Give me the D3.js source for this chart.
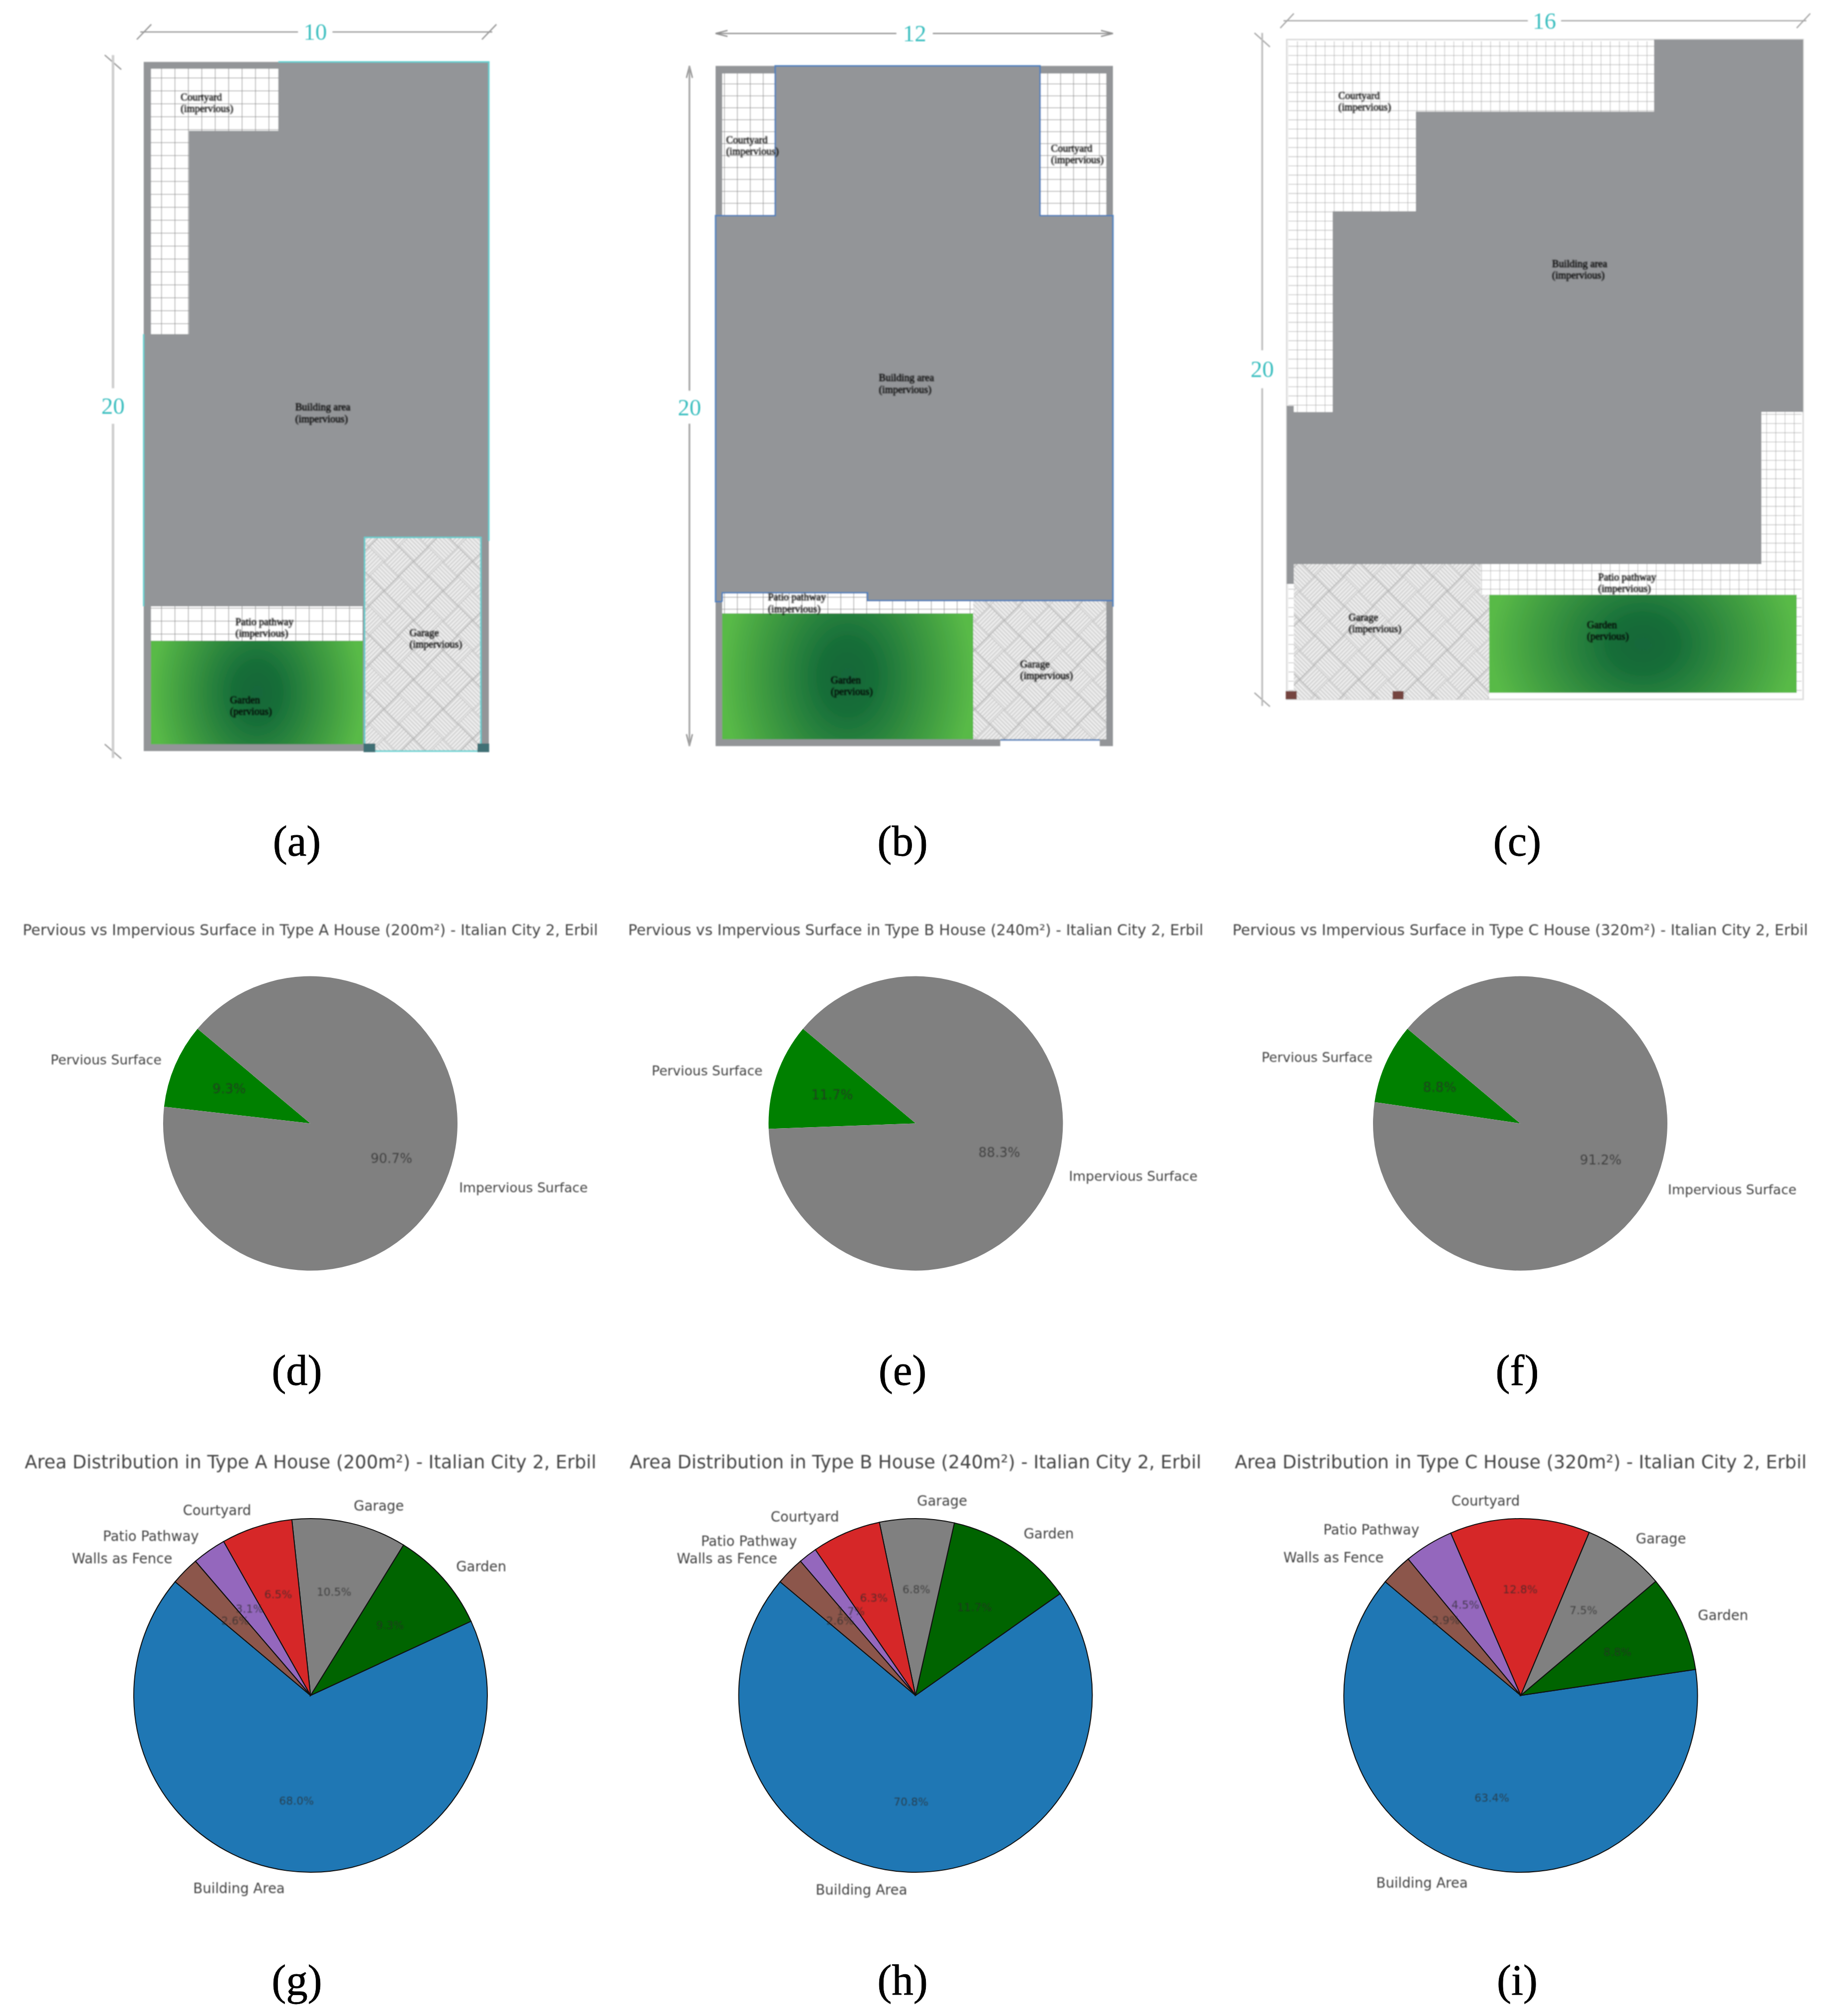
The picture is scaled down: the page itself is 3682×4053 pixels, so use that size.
<!DOCTYPE html>
<html>
<head>
<meta charset="utf-8">
<script src="https://cdn.jsdelivr.net/npm/d3@7"></script>
<style>
  body { margin: 0; background: #fff; }
  svg { display: block; }
</style>
</head>
<body>
<div id="chart"></div>
<script>
// pie data
var areaLabels = ["Building Area", "Garden", "Garage", "Courtyard", "Patio Pathway", "Walls as Fence"];
var areaColors = ["#1f77b4", "#006400", "#808080", "#d62728", "#9467bd", "#8c564b"];
var areaTypeA = [68.0, 9.3, 10.5, 6.5, 3.1, 2.6];
var areaTypeB = [70.8, 11.7, 6.8, 6.3, 1.7, 2.6];
var areaTypeC = [63.4, 8.8, 7.5, 12.8, 4.5, 2.9];
var areaTitles = [
  "Area Distribution in Type A House (200m²) - Italian City 2, Erbil",
  "Area Distribution in Type B House (240m²) - Italian City 2, Erbil",
  "Area Distribution in Type C House (320m²) - Italian City 2, Erbil"
];

var surfaceLabels = ["Pervious Surface", "Impervious Surface"];
var surfaceColors = ["#008000", "#808080"];
var surfaceTypeA = [9.3, 90.7];
var surfaceTypeB = [11.7, 88.3];
var surfaceTypeC = [8.8, 91.2];
var surfaceTitles = [
  "Pervious vs Impervious Surface in Type A House (200m²) - Italian City 2, Erbil",
  "Pervious vs Impervious Surface in Type B House (240m²) - Italian City 2, Erbil",
  "Pervious vs Impervious Surface in Type C House (320m²) - Italian City 2, Erbil"
];

// plan data, all in metres on the plot
var planWidths = [10, 12, 16];
var planDepth = 20;

var planACourtyard = [[[0.21,0.2],[3.9,0.2],[3.9,2.0],[1.31,2.0],[1.31,7.9],[0.21,7.9]]];
var planAPatio = [[[0.21,15.8],[6.35,15.8],[6.35,16.8],[0.21,16.8]]];
var planAGarden = [[0.21,16.8],[6.35,16.8],[6.35,19.8],[0.21,19.8]];
var planAGarage = [[6.4,13.8],[9.77,13.8],[9.77,20],[6.4,20]];
var planAOutline = [
  [[3.9,0],[10,0],[10,13.9]],
  [[0,7.9],[0,15.8]],
  [[6.4,20],[6.4,13.8],[9.77,13.8],[9.77,20],[6.4,20]]
];
var planADoors = [[6.37,19.78],[9.67,19.78]];
var planALabels = [
  ["Courtyard", "(impervious)", 1.07, 1.03],
  ["Building area", "(impervious)", 4.39, 10.03],
  ["Patio pathway", "(impervious)", 2.66, 16.26],
  ["Garage", "(impervious)", 7.7, 16.57],
  ["Garden", "(pervious)", 2.5, 18.53]
];

var planBCourtyard = [
  [[0.2,0.22],[1.8,0.22],[1.8,4.4],[0.2,4.4]],
  [[9.8,0.22],[11.8,0.22],[11.8,4.4],[9.8,4.4]]
];
var planBPatio = [[[0.2,15.49],[4.59,15.49],[4.59,15.72],[7.78,15.72],[7.78,16.1],[0.2,16.1]]];
var planBGarden = [[0.2,16.1],[7.78,16.1],[7.78,19.8],[0.2,19.8]];
var planBGarage = [[7.78,15.72],[11.8,15.72],[11.8,19.8],[7.78,19.8]];
var planBGap = [[8.6,19.82],[11.6,19.82],[11.6,20],[8.6,20]];
var planBOutline = [
  [[0.2,15.75],[0,15.75],[0,4.4],[1.8,4.4],[1.8,0],[9.8,0],[9.8,4.4],[12,4.4],[12,15.9]],
  [[0.2,15.75],[0.2,15.49],[4.59,15.49],[4.59,15.72],[12,15.72]],
  [[8.6,19.82],[11.6,19.82]]
];
var planBLabels = [
  ["Courtyard", "(impervious)", 0.32, 2.18],
  ["Courtyard", "(impervious)", 10.13, 2.43],
  ["Building area", "(impervious)", 4.93, 9.18],
  ["Patio pathway", "(impervious)", 1.58, 15.63],
  ["Garden", "(pervious)", 3.48, 18.06],
  ["Garage", "(impervious)", 9.2, 17.6]
];

var planCBuilding = [[11.38,0],[16,0],[16,11.29],[14.71,11.29],[14.71,15.9],[0.22,15.9],[0.22,16.5],[0,16.5],[0,11.1],[0.22,11.1],[0.22,11.29],[1.42,11.29],[1.42,5.2],[4,5.2],[4,2.18],[11.38,2.18]];
var planCCourtyard = [
  [[0.05,0.05],[11.38,0.05],[11.38,2.18],[4,2.18],[4,5.2],[1.42,5.2],[1.42,11.29],[0.22,11.29],[0.22,11.1],[0.05,11.1]],
  [[14.71,11.29],[15.95,11.29],[15.95,19.95],[15.8,19.95],[15.8,16.83],[6,16.83],[6,15.9],[14.71,15.9]],
  [[0.05,16.5],[0.22,16.5],[0.22,19.8],[0.05,19.8]]
];
var planCGarden = [[6.27,16.83],[15.8,16.83],[15.8,19.8],[6.27,19.8]];
var planCGarage = [[0.22,15.9],[6,15.9],[6,16.83],[6.27,16.83],[6.27,20],[0.22,20]];
var planCDoors = [[-0.03,19.75],[3.28,19.75]];
var planCLabels = [
  ["Courtyard", "(impervious)", 1.6, 1.71],
  ["Building area", "(impervious)", 8.22, 6.8],
  ["Patio pathway", "(impervious)", 9.65, 16.3],
  ["Garage", "(impervious)", 1.92, 17.52],
  ["Garden", "(pervious)", 9.3, 17.75]
];

// dimension lines: [line offset, gap start, gap end] in metres
var planADims = {top: [-0.87, 4.47, 5.47], left: [-0.89, 9.47, 10.5]};
var planBDims = {top: [-0.955, 5.46, 6.56], left: [-0.79, 9.55, 10.52]};
var planCDims = {top: [-0.57, 7.47, 8.5], left: [-0.76, 9.42, 10.57]};

var captions = ["(a)", "(b)", "(c)", "(d)", "(e)", "(f)", "(g)", "(h)", "(i)"];

var width = 3682, height = 4053;
var planColor = "#939598";
var textFont = "'DejaVu Sans'";
var serifFont = "'Liberation Serif'";

var svg = d3.select("#chart").append("svg")
  .attr("width", width)
  .attr("height", height)
  .style("background", "#fff");

var defs = svg.append("defs");

// image is a soft upscale, so everything gets a little blur
function addBlur(id, amount) {
  defs.append("filter").attr("id", id)
    .attr("x", "-5%").attr("y", "-5%").attr("width", "110%").attr("height", "110%")
    .append("feGaussianBlur").attr("stdDeviation", amount);
}
addBlur("soft", 1.1);
addBlur("softer", 1.6);

function addGrid(id, w, h, color, lineWidth) {
  var p = defs.append("pattern").attr("id", id)
    .attr("patternUnits", "userSpaceOnUse")
    .attr("width", w).attr("height", h);
  p.append("rect").attr("width", w).attr("height", h).attr("fill", "#fff");
  p.append("path").attr("d", "M0,0H" + w + "M0,0V" + h)
    .attr("stroke", color).attr("stroke-width", lineWidth).attr("fill", "none");
}
addGrid("gridA", 27, 26, "#959595", 2.6);
addGrid("gridB", 26, 24, "#959595", 2.6);
addGrid("gridC", 18.5, 18.5, "#a3a3a3", 1.8);

// basket weave used for the garages
(function() {
  var cell = 42, step = 6;
  var p = defs.append("pattern").attr("id", "weave")
    .attr("patternUnits", "userSpaceOnUse")
    .attr("width", cell * 2).attr("height", cell * 2)
    .attr("patternTransform", "rotate(45)");
  p.append("rect").attr("width", cell * 2).attr("height", cell * 2).attr("fill", "#ececec");
  var hatch = "";
  d3.range(step / 2, cell, step).forEach(function(o) {
    hatch += "M0," + o + "H" + cell + "M" + cell + "," + (cell + o) + "H" + (cell * 2);
    hatch += "M" + (cell + o) + ",0V" + cell + "M" + o + "," + cell + "V" + (cell * 2);
  });
  p.append("path").attr("d", hatch).attr("stroke", "#c4c4c4").attr("stroke-width", 1.6).attr("fill", "none");
  p.append("path").attr("d", "M0,0H" + (cell * 2) + "M0," + cell + "H" + (cell * 2) + "M0,0V" + (cell * 2) + "M" + cell + ",0V" + (cell * 2))
    .attr("stroke", "#a8a8a8").attr("stroke-width", 1.6).attr("fill", "none");
})();

var garden = defs.append("radialGradient").attr("id", "lawn")
  .attr("cx", 0.5).attr("cy", 0.5).attr("r", 0.5)
  .attr("gradientTransform", "translate(0.5,0.5) scale(1,2.6) translate(-0.5,-0.5)");
garden.append("stop").attr("offset", "0%").attr("stop-color", "#13673a");
garden.append("stop").attr("offset", "22%").attr("stop-color", "#176e39");
garden.append("stop").attr("offset", "100%").attr("stop-color", "#59ba47");

function drawPlan(o) {
  var x = d3.scaleLinear().domain([0, o.metres]).range(o.xRange);
  var y = d3.scaleLinear().domain([0, planDepth]).range(o.yRange);
  var shape = d3.line().x(function(d) { return x(d[0]); }).y(function(d) { return y(d[1]); });
  var g = svg.append("g").attr("filter", "url(#soft)");

  g.append("path")
    .attr("d", shape([[0,0],[o.metres,0],[o.metres,planDepth],[0,planDepth]]) + "Z")
    .attr("fill", o.ground).attr("stroke", o.border).attr("stroke-width", 3);

  (o.building ? [o.building] : []).forEach(function(p) {
    g.append("path").attr("d", shape(p) + "Z").attr("fill", planColor);
  });
  o.grids.forEach(function(p) {
    g.append("path").attr("d", shape(p) + "Z").attr("fill", "url(#" + o.grid + ")");
  });
  g.append("path").attr("d", shape(o.garden) + "Z").attr("fill", "url(#lawn)");
  g.append("path").attr("d", shape(o.garage) + "Z").attr("fill", "url(#weave)");
  if (o.gap) {
    g.append("path").attr("d", shape(o.gap) + "Z").attr("fill", "#fff");
  }
  (o.outline || []).forEach(function(p) {
    g.append("path").attr("d", shape(p)).attr("fill", "none")
      .attr("stroke", o.outlineColor).attr("stroke-width", 3);
  });
  (o.doors || []).forEach(function(d) {
    g.append("path")
      .attr("d", shape([[d[0],d[1]],[d[0]+0.34,d[1]],[d[0]+0.34,d[1]+0.25],[d[0],d[1]+0.25]]) + "Z")
      .attr("fill", o.doorColor);
  });

  // dimension lines
  var lines = g.append("g").attr("fill", "none").attr("stroke", o.topColor).attr("stroke-width", 2.6);
  var t = o.dims.top, l = o.dims.left;
  lines.append("path").attr("d", shape([[o.arrows ? 0 : -0.1, t[0]], [t[1], t[0]]]));
  lines.append("path").attr("d", shape([[t[2], t[0]], [o.metres + (o.arrows ? 0 : 0.1), t[0]]]));
  var side = g.append("g").attr("fill", "none").attr("stroke", o.sideColor).attr("stroke-width", o.sideWidth);
  side.append("path").attr("d", shape([[l[0], o.arrows ? 0 : -0.2], [l[0], l[1]]]));
  side.append("path").attr("d", shape([[l[0], l[2]], [l[0], planDepth + (o.arrows ? 0 : 0.2)]]));
  if (o.arrows) {
    var ax = x(0), ay = y(t[0]), bx = x(o.metres), lx = x(l[0]), ty = y(0), by = y(planDepth);
    lines.append("path").attr("d", "M" + (ax+24) + "," + (ay-6) + "L" + ax + "," + ay + "L" + (ax+24) + "," + (ay+6));
    lines.append("path").attr("d", "M" + (bx-24) + "," + (ay-6) + "L" + bx + "," + ay + "L" + (bx-24) + "," + (ay+6));
    lines.append("path").attr("d", "M" + (lx-6) + "," + (ty+24) + "L" + lx + "," + ty + "L" + (lx+6) + "," + (ty+24));
    lines.append("path").attr("d", "M" + (lx-6) + "," + (by-24) + "L" + lx + "," + by + "L" + (lx+6) + "," + (by-24));
  } else {
    [0, o.metres].forEach(function(m) {
      lines.append("path").attr("d", shape([[m - 0.2, t[0] + 0.22], [m + 0.22, t[0] - 0.22]]));
    });
    [0, planDepth].forEach(function(m) {
      lines.append("path").attr("d", shape([[l[0] - 0.24, m - 0.2], [l[0] + 0.24, m + 0.22]]));
    });
  }
  g.append("text").attr("x", x((t[1] + t[2]) / 2)).attr("y", y(t[0]))
    .attr("dy", "0.34em").attr("text-anchor", "middle")
    .attr("font-family", serifFont).attr("font-size", 47).attr("fill", "#3dbfc0")
    .text(o.metres);
  g.append("text").attr("x", x(l[0])).attr("y", y((l[1] + l[2]) / 2))
    .attr("dy", "0.34em").attr("text-anchor", "middle")
    .attr("font-family", serifFont).attr("font-size", 47).attr("fill", "#3dbfc0")
    .text(planDepth);

  // small labels inside the plan
  var names = svg.append("g").attr("filter", "url(#softer)")
    .attr("font-family", serifFont).attr("font-size", 20.5).attr("fill", "#000")
    .attr("stroke", "#000").attr("stroke-width", 0.5);
  o.labels.forEach(function(d) {
    var t = names.append("text").attr("x", x(d[2])).attr("y", y(d[3]));
    t.append("tspan").attr("x", x(d[2])).attr("dy", "0.3em").text(d[0]);
    t.append("tspan").attr("x", x(d[2])).attr("dy", "1.13em").text(d[1]);
  });
}

drawPlan({
  metres: planWidths[0], xRange: [289, 983], yRange: [124.5, 1510], ground: planColor, border: "none",
  grids: planACourtyard.concat(planAPatio), grid: "gridA", garden: planAGarden, garage: planAGarage,
  outline: planAOutline, outlineColor: "#62cfcf", doors: planADoors, doorColor: "#3f6f74",
  labels: planALabels, dims: planADims, arrows: false,
  topColor: "#9a9a9a", sideColor: "#cdcdcd", sideWidth: 5
});
drawPlan({
  metres: planWidths[1], xRange: [1439, 2238], yRange: [132.6, 1500], ground: planColor, border: "none",
  grids: planBCourtyard.concat(planBPatio), grid: "gridB", garden: planBGarden, garage: planBGarage,
  gap: planBGap, outline: planBOutline, outlineColor: "#4f81bd",
  labels: planBLabels, dims: planBDims, arrows: true,
  topColor: "#8f8f8f", sideColor: "#a5a5a5", sideWidth: 3.5
});
drawPlan({
  metres: planWidths[2], xRange: [2587.5, 3626], yRange: [79.6, 1406], ground: "#fff", border: "#dcdcdc",
  building: planCBuilding, grids: planCCourtyard, grid: "gridC", garden: planCGarden, garage: planCGarage,
  doors: planCDoors, doorColor: "#754540",
  labels: planCLabels, dims: planCDims, arrows: false,
  topColor: "#a8a8a8", sideColor: "#bdbdbd", sideWidth: 3.5
});

function drawPie(o) {
  var pie = d3.pie().sort(null)
    .startAngle((90 - 140) * Math.PI / 180)
    .endAngle((90 - 140 - 360) * Math.PI / 180);
  var arcs = pie(o.values);
  var arc = d3.arc().innerRadius(0).outerRadius(o.r);
  var labelArc = d3.arc().innerRadius(o.r * 1.1).outerRadius(o.r * 1.1);
  var pctArc = d3.arc().innerRadius(o.r * 0.6).outerRadius(o.r * 0.6);

  var g = svg.append("g").attr("transform", "translate(" + o.cx + "," + o.cy + ")");
  g.selectAll("path.slice").data(arcs).enter().append("path")
    .attr("class", "slice")
    .attr("d", arc)
    .attr("fill", function(d, i) { return o.colors[i]; })
    .attr("stroke", o.stroke)
    .attr("stroke-width", o.stroke === "none" ? 0 : 2);

  var text = svg.append("g").attr("transform", "translate(" + o.cx + "," + o.cy + ")")
    .attr("filter", "url(#soft)").attr("font-family", textFont);
  text.selectAll("text.name").data(arcs).enter().append("text")
    .attr("class", "name")
    .attr("x", function(d) { return labelArc.centroid(d)[0]; })
    .attr("y", function(d) { return labelArc.centroid(d)[1]; })
    .attr("dy", "0.36em")
    .attr("text-anchor", function(d) { return labelArc.centroid(d)[0] < 0 ? "end" : "start"; })
    .attr("font-size", o.labelSize).attr("fill", "#444")
    .text(function(d, i) { return o.labels[i]; });
  text.selectAll("text.pct").data(arcs).enter().append("text")
    .attr("class", "pct")
    .attr("x", function(d) { return pctArc.centroid(d)[0]; })
    .attr("y", function(d) { return pctArc.centroid(d)[1]; })
    .attr("dy", "0.36em")
    .attr("text-anchor", "middle")
    .attr("font-size", o.pctSize).attr("fill", "#2b2b2b").attr("fill-opacity", 0.7)
    .text(function(d) { return d.data.toFixed(1) + "%"; });
  text.append("text")
    .attr("x", 0).attr("y", o.titleY - o.cy).attr("dy", "0.36em")
    .attr("text-anchor", "middle")
    .attr("font-size", o.titleSize).attr("fill", "#444")
    .text(o.title);
}

var surfaceSeries = [surfaceTypeA, surfaceTypeB, surfaceTypeC];
var surfaceX = [624, 1841.5, 3057];
surfaceSeries.forEach(function(values, i) {
  drawPie({
    values: values, labels: surfaceLabels, colors: surfaceColors, stroke: "none",
    cx: surfaceX[i], cy: 2258.5, r: 296, labelSize: 26.7, pctSize: 26.4,
    title: surfaceTitles[i], titleY: 1869, titleSize: 30
  });
});

var areaSeries = [areaTypeA, areaTypeB, areaTypeC];
var areaX = [624.5, 1841, 3058];
areaSeries.forEach(function(values, i) {
  drawPie({
    values: values, labels: areaLabels, colors: areaColors, stroke: "#111",
    cx: areaX[i], cy: 3408.5, r: 355.5, labelSize: 27.6, pctSize: 22,
    title: areaTitles[i], titleY: 2939, titleSize: 36.7
  });
});

// sub-figure letters
var captionX = [597, 1815, 3051];
var captionY = [1720, 2784, 4010];
svg.append("g").selectAll("text").data(captions).enter().append("text")
  .attr("x", function(d, i) { return captionX[i % 3]; })
  .attr("y", function(d, i) { return captionY[Math.floor(i / 3)]; })
  .attr("text-anchor", "middle")
  .attr("font-family", serifFont).attr("font-size", 87).attr("fill", "#000")
  .attr("stroke", "#000").attr("stroke-width", 0.8)
  .text(function(d) { return d; });
</script>
</body>
</html>
